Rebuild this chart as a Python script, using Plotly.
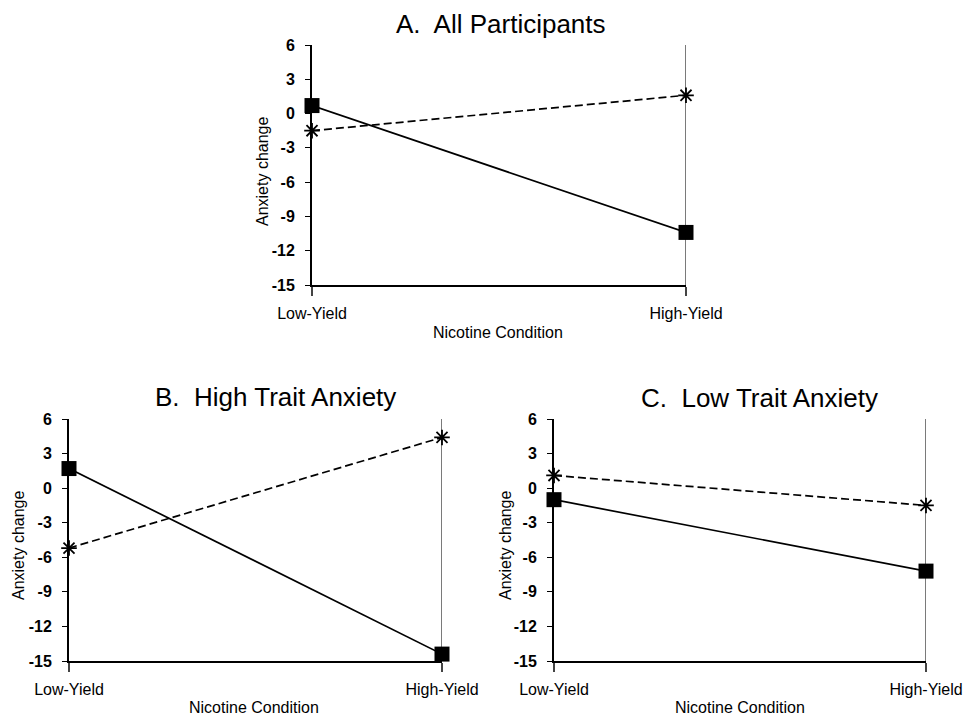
import plotly.graph_objects as go

categories = ["Low-Yield", "High-Yield"]
panels = ["A", "B", "C"]
panel_titles = ["A.  All Participants", "B.  High Trait Anxiety", "C.  Low Trait Anxiety"]
solid_A = [0.7, -10.4]
solid_B = [1.7, -14.4]
solid_C = [-1.0, -7.2]
dashed_A = [-1.5, 1.6]
dashed_B = [-5.2, 4.4]
dashed_C = [1.1, -1.5]
y_ticks = [6, 3, 0, -3, -6, -9, -12, -15]
x_title = "Nicotine Condition"
y_title = "Anxiety change"

solid_vals = {"A": solid_A, "B": solid_B, "C": solid_C}
dashed_vals = {"A": dashed_A, "B": dashed_B, "C": dashed_C}

W, H = 966, 717
boxes = {"A": (312, 686, 45, 285), "B": (69, 442, 419, 661), "C": (554, 926, 419, 661)}
title_pos = {"A": (501, 24), "B": (275, 397), "C": (759, 398)}
ytitle_pos = {"A": (262, 171), "B": (18, 545), "C": (505, 545)}
xtitle_pos = {"A": (498, 333), "B": (254, 707), "C": (740, 707)}

FONT = "Liberation Sans, Arial, sans-serif"


def px(x):
    return x / W


def py(y):
    return 1 - y / H


fig = go.Figure()
layout = dict(
    width=W, height=H, margin=dict(l=0, r=0, t=0, b=0),
    paper_bgcolor="white", plot_bgcolor="white", showlegend=False,
    font=dict(family=FONT, color="black"),
)
annotations = []
shapes = []
for i, p in enumerate(panels):
    suffix = "" if i == 0 else str(i + 1)
    xa, ya = "x" + suffix, "y" + suffix
    fig.add_trace(go.Scatter(
        x=categories, y=dashed_vals[p], xaxis=xa, yaxis=ya, mode="lines+markers",
        name="dashed", cliponaxis=False,
        line=dict(color="black", width=1.7, dash="8px,4px"),
        marker=dict(symbol="asterisk-open", size=13, color="black",
                    line=dict(color="black", width=1.8)),
    ))
    fig.add_trace(go.Scatter(
        x=categories, y=solid_vals[p], xaxis=xa, yaxis=ya, mode="lines+markers",
        name="solid", cliponaxis=False,
        line=dict(color="black", width=1.7),
        marker=dict(symbol="square", size=15, color="black"),
    ))
    x0, x1, yt, yb = boxes[p]
    layout["xaxis" + suffix] = dict(
        domain=[px(x0), px(x1)], anchor=ya, type="category",
        categoryorder="array", categoryarray=categories, range=[0, 1],
        showline=True, linecolor="black", linewidth=1.5,
        showgrid=False,
        ticks="outside", ticklen=9, tickcolor="#444", tickwidth=1.5,
        tickfont=dict(family=FONT, size=16, color="black"),
        ticklabelstandoff=4, zeroline=False, automargin=False, fixedrange=True,
    )
    layout["yaxis" + suffix] = dict(
        domain=[py(yb), py(yt)], anchor=xa, range=[-15, 6],
        tickvals=y_ticks, ticktext=[str(v) for v in y_ticks],
        showline=True, linecolor="black", linewidth=2,
        showgrid=False, zeroline=False,
        ticks="outside", ticklen=5, tickcolor="black", tickwidth=1,
        tickfont=dict(family=FONT, size=16, color="black", weight="bold"),
        ticklabelstandoff=7, automargin=False, fixedrange=True,
    )
    # grey vertical reference line at the High-Yield category
    shapes.append(dict(type="line", xref=xa, yref=ya, layer="below",
                       x0=categories.index("High-Yield"), x1=categories.index("High-Yield"),
                       y0=min(y_ticks), y1=max(y_ticks),
                       line=dict(color="#7a7a7a", width=2)))
    tx, ty = title_pos[p]
    annotations.append(dict(text=panel_titles[i], x=px(tx), y=py(ty), xref="paper", yref="paper",
                            xanchor="center", yanchor="middle", showarrow=False,
                            font=dict(family=FONT, size=26, color="black")))
    tx, ty = ytitle_pos[p]
    annotations.append(dict(text=y_title, x=px(tx), y=py(ty), xref="paper", yref="paper",
                            xanchor="center", yanchor="middle", showarrow=False, textangle=-90,
                            font=dict(family=FONT, size=16, color="black")))
    tx, ty = xtitle_pos[p]
    annotations.append(dict(text=x_title, x=px(tx), y=py(ty), xref="paper", yref="paper",
                            xanchor="center", yanchor="middle", showarrow=False,
                            font=dict(family=FONT, size=16, color="black")))

layout["annotations"] = annotations
layout["shapes"] = shapes
fig.update_layout(**layout)
fig.write_html(
    "out.html",
    config={"displayModeBar": False},
    post_script="document.body.style.margin='0';document.documentElement.style.overflow='hidden';",
)
